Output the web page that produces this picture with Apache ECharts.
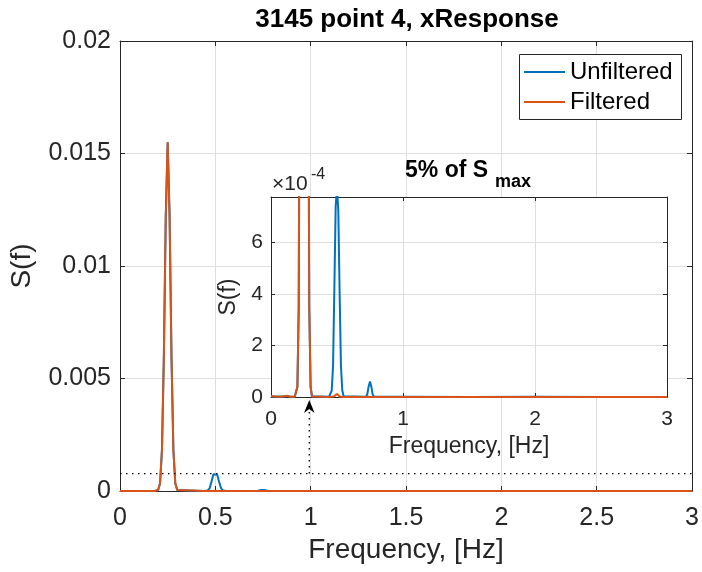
<!DOCTYPE html>
<html><head><meta charset="utf-8">
<script src="https://cdn.jsdelivr.net/npm/echarts@6/dist/echarts.min.js"></script>
<style>html,body{margin:0;padding:0;background:#fff}#c{width:702px;height:572px}</style>
</head><body><div id="c"></div>
<script>
// ---- data ----
const freq = [0, 0.02, 0.04, 0.06, 0.08, 0.10, 0.12, 0.14, 0.16, 0.18, 0.19, 0.20, 0.21, 0.22, 0.23, 0.24, 0.25, 0.26, 0.27, 0.28, 0.29, 0.30, 0.31,
  0.44, 0.45, 0.46, 0.47, 0.48, 0.49, 0.50, 0.51, 0.52, 0.53, 0.54, 0.55, 0.56,
  0.72, 0.73, 0.74, 0.75, 0.76, 0.77, 0.78, 1.0, 1.5, 2.0, 2.5, 3.0];
const unfiltered = [0.000002, 0.000003, 0.000001, 0.000002, 0.000001, 0.000003, 0.000004, 0.000002, 0.000001, 0.000002, 0.000004, 0.000040, 0.000344, 0.00182, 0.00598, 0.01222, 0.01550, 0.01222, 0.00598, 0.00182, 0.000344, 0.000040, 0.000003,
  0.000001, 0.000003, 0.000025, 0.00012, 0.00042, 0.00074, 0.00081, 0.00072, 0.00040, 0.00012, 0.000025, 0.000003, 0.000001,
  0.000001, 0.000012, 0.000042, 0.000060, 0.000040, 0.000010, 0.000001, 0.000001, 0, 0.000001, 0, 0];
const filtered = [0.000003, 0.000002, 0.000002, 0.000001, 0.000002, 0.000002, 0.000005, 0.000002, 0.000001, 0.000001, 0.000003, 0.000040, 0.000344, 0.00182, 0.00598, 0.01222, 0.01550, 0.01222, 0.00598, 0.00182, 0.000344, 0.000040, 0.000002,
  0, 0, 0.000001, 0.000002, 0.000003, 0.000008, 0.000012, 0.000007, 0.000002, 0.000001, 0, 0, 0,
  0, 0, 0.000001, 0.000001, 0, 0, 0, 0, 0, 0, 0, 0];
const seriesNames = ['Unfiltered', 'Filtered'];
const xTicksMain = [0, 0.5, 1, 1.5, 2, 2.5, 3];
const yTicksMain = [0, 0.005, 0.01, 0.015, 0.02];
const xTicksInset = [0, 1, 2, 3];
const yTicksInset = [0, 2e-4, 4e-4, 6e-4];
const cutoff = 0.29;          // frequency marked by the arrow on the inset
const thresholdFraction = 0.05;
const titleText = '3145 point 4, xResponse';

// ---- derived ----
const FONT = "'Liberation Sans', Arial, Helvetica, sans-serif";
const AX = '#262626', GRIDC = '#dfdfdf';
const BLUE = '#0072BD', ORANGE = '#D95319';
const sMax = Math.max(...unfiltered);
const thr = sMax * thresholdFraction;
const pairs = arr => freq.map((f, i) => [f, arr[i]]);
const fmt = v => String(parseFloat(v.toFixed(6)));

function axisBase(grid, ticks, extra) {
  return Object.assign({
    type: 'value', gridIndex: grid, min: ticks[0], max: ticks[ticks.length - 1],
    interval: ticks[1] - ticks[0],
    axisLine: { show: true, onZero: false, lineStyle: { color: AX, width: 1 } },
    axisTick: { show: true, inside: true, length: grid === 0 ? 5 : 4, lineStyle: { color: AX } },
    splitLine: { show: false }, axisLabel: { show: false }
  }, extra);
}

const chart = echarts.init(document.getElementById('c'), null, { renderer: 'canvas' });
const option = {
  animation: false,
  backgroundColor: '#fff',
  textStyle: { fontFamily: FONT },
  grid: [
    { left: 120, top: 41, width: 574, height: 450, z: 0 },
    { left: 271, top: 197, width: 396, height: 200, show: true, backgroundColor: '#fff', borderWidth: 0, z: 1 }
  ],
  legend: {
    data: seriesNames, orient: 'vertical', left: 524, top: 60, padding: 0,
    icon: 'rect', itemWidth: 41, itemHeight: 2, itemGap: 6, z: 10,
    textStyle: { fontSize: 24, color: '#000', fontFamily: FONT, lineHeight: 24 }
  },
  xAxis: [
    axisBase(0, xTicksMain, {
      position: 'bottom',
      axisLabel: { show: true, margin: 15, fontSize: 25, color: AX, fontFamily: FONT, formatter: fmt },
      splitLine: { show: true, lineStyle: { color: GRIDC, width: 1 } },
      name: 'Frequency, [Hz]', nameLocation: 'middle', nameGap: 42,
      nameTextStyle: { fontSize: 28, color: AX, fontFamily: FONT }
    }),
    axisBase(0, xTicksMain, { position: 'top' }),
    axisBase(1, xTicksInset, {
      position: 'bottom', z: 1,
      axisLabel: { show: true, margin: 12, fontSize: 21, color: AX, fontFamily: FONT, formatter: fmt },
      splitLine: { show: true, lineStyle: { color: GRIDC, width: 1 } },
      name: 'Frequency, [Hz]', nameLocation: 'middle', nameGap: 38,
      nameTextStyle: { fontSize: 23, color: AX, fontFamily: FONT }
    }),
    axisBase(1, xTicksInset, { position: 'top', z: 1 })
  ],
  yAxis: [
    axisBase(0, yTicksMain, {
      position: 'left',
      axisLabel: { show: true, margin: 9, fontSize: 25, color: AX, fontFamily: FONT, formatter: fmt },
      splitLine: { show: true, lineStyle: { color: GRIDC, width: 1 } },
      name: 'S(f)', nameLocation: 'middle', nameGap: 84,
      nameTextStyle: { fontSize: 28, color: AX, fontFamily: FONT }
    }),
    axisBase(0, yTicksMain, { position: 'right' }),
    axisBase(1, yTicksInset, {
      position: 'left', z: 1, max: thr,
      axisLabel: { show: true, margin: 8, fontSize: 21, color: AX, fontFamily: FONT, showMaxLabel: false,
        formatter: v => { const n = v / 1e-4; return Math.abs(n - Math.round(n)) < 1e-6 ? String(Math.round(n)) : ''; } },
      splitLine: { show: true, lineStyle: { color: GRIDC, width: 1 } },
      name: 'S(f)', nameLocation: 'middle', nameGap: 25,
      nameTextStyle: { fontSize: 23, color: AX, fontFamily: FONT }
    }),
    axisBase(1, yTicksInset, { position: 'right', z: 1, max: thr })
  ],
  series: [
    { name: seriesNames[0], type: 'line', xAxisIndex: 0, yAxisIndex: 0, data: pairs(unfiltered),
      showSymbol: false, symbol: 'none', lineStyle: { color: BLUE, width: 2 }, itemStyle: { color: BLUE } },
    { name: seriesNames[1], type: 'line', xAxisIndex: 0, yAxisIndex: 0, data: pairs(filtered),
      showSymbol: false, symbol: 'none', lineStyle: { color: ORANGE, width: 2 }, itemStyle: { color: ORANGE } },
    { name: '5% threshold', type: 'line', xAxisIndex: 0, yAxisIndex: 0, z: 4, silent: true,
      data: [[xTicksMain[0], thr], [xTicksMain[xTicksMain.length - 1], thr]],
      showSymbol: false, symbol: 'none', lineStyle: { color: '#000', width: 1.3, type: [1.5, 4.5] } },
    { name: seriesNames[0], type: 'line', xAxisIndex: 2, yAxisIndex: 2, data: pairs(unfiltered), z: 3, clip: true,
      showSymbol: false, symbol: 'none', lineStyle: { color: BLUE, width: 2 }, itemStyle: { color: BLUE } },
    { name: seriesNames[1], type: 'line', xAxisIndex: 2, yAxisIndex: 2, data: pairs(filtered), z: 3, clip: true,
      showSymbol: false, symbol: 'none', lineStyle: { color: ORANGE, width: 2 }, itemStyle: { color: ORANGE } }
  ]
};
chart.setOption(option);

// annotations
const ax = chart.convertToPixel({ xAxisIndex: 2 }, cutoff);
const yInsetBottom = chart.convertToPixel({ yAxisIndex: 2 }, 0);
const yThr = chart.convertToPixel({ yAxisIndex: 0 }, thr);
const tip = yInsetBottom + 3, base = yInsetBottom + 16;
function txt(x, y, text, size, weight, align) {
  return { type: 'text', x: x, y: y, z: 20, silent: true,
    style: { text: text, fontSize: size, fontWeight: weight, fontFamily: FONT, fill: weight === 'bold' ? '#000' : AX,
      align: align, verticalAlign: 'middle', textAlign: align, textVerticalAlign: 'middle' } };
}
chart.setOption({ graphic: [
  txt(407, 19.5, titleText, 26, 'bold', 'center'),
  txt(405, 170.5, '5% of S', 23, 'bold', 'left'),
  txt(495, 182.5, 'max', 18, 'bold', 'left'),
  txt(272, 184.5, '\u00d710', 21, 'normal', 'left'),
  txt(311, 175, '-4', 16, 'normal', 'left'),
  { type: 'rect', z: 9, silent: true, shape: { x: 519.5, y: 54.5, width: 162, height: 65 },
    style: { fill: '#fff', stroke: AX, lineWidth: 1 } },
  { type: 'line', z: 20, silent: true, shape: { x1: ax, y1: yThr, x2: ax, y2: base - 3 },
    style: { stroke: '#000', lineWidth: 1.3, lineDash: [1.5, 4.5] } },
  { type: 'polygon', z: 20, silent: true,
    shape: { points: [[ax, tip], [ax - 5.3, base], [ax, base - 4], [ax + 5.3, base]] },
    style: { fill: '#000' } }
]});
</script>
</body></html>
